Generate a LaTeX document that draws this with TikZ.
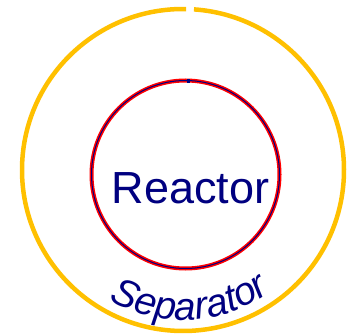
\documentclass[tikz,border=0pt]{standalone}
\usepackage{xcolor}
\usepackage{fontspec}
\usepackage{tikz}
\usetikzlibrary{decorations.text}
\setmainfont{Liberation Sans}
\definecolor{mygold}{RGB}{255,192,0}
\definecolor{myred}{RGB}{255,0,0}
\definecolor{mynavy}{RGB}{0,0,128}
\tikzset{
  sepring/.style={draw=mygold, line width=4.5pt},
  reactring/.style={draw=myred, line width=4pt},
  reactcore/.style={draw=mynavy, line width=1pt},
  bigtext/.style={font=\fontsize{45}{50}\selectfont, text=mynavy, inner sep=0pt}
}
\begin{document}
\begin{tikzpicture}[x=1pt, y=1pt]
  \useasboundingbox (0,0) rectangle (347,335);

  % separator ring, open at the top
  \coordinate (sepc) at (183,165);
  \draw[sepring] (sepc) ++(88.9:161pt) arc[start angle=88.9, end angle=446.1, radius=161pt];

  % reactor ring
  \coordinate (reac) at (185.5,160.5);
  \draw[reactring] (reac) circle (94pt);
  \draw[reactcore] (reac) circle (94pt);
  \draw[draw=mynavy, line width=3pt] (reac) ++(88:92pt) -- ++(90:4pt);

  \node[bigtext, anchor=base] (reactor) at (190.5,132) {Reactor};

  % label on the bottom of the separator
  \path[decorate, decoration={text along path, text align=center,
      text={|\itshape\fontsize{39}{42}\selectfont\color{mynavy}|Separator}}]
    (sepc) ++(-127:150pt) arc[start angle=-127, end angle=-47, radius=150pt];
\end{tikzpicture}
\end{document}
